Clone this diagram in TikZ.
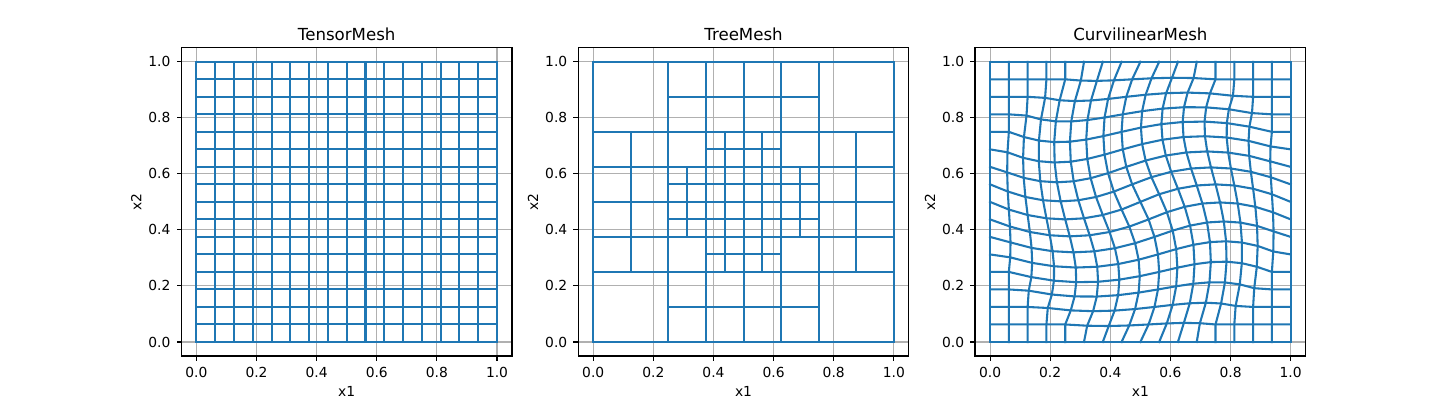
\documentclass[tikz,border=0pt]{standalone}
\usepackage{fontspec}
\setmainfont{DejaVu Sans}
\definecolor{MeshClr}{HTML}{1F77B4}
\definecolor{GridClr}{HTML}{B0B0B0}

\newcommand{\AxesGrid}{%
  \foreach \tk in {0,0.2,0.4,0.6,0.8,1}{
    \draw[gridline] (\tk,-0.05) -- (\tk,1.05);
    \draw[gridline] (-0.05,\tk) -- (1.05,\tk);
  }}
\newcommand{\AxesFrame}[2]{%
  \draw[spine] (-0.05,-0.05) rectangle (1.05,1.05);
  \foreach \tk/\lbl [count=\k] in {0/0.0,0.2/0.2,0.4/0.4,0.6/0.6,0.8/0.8,1/1.0}{
    \draw[spine] (\tk,-0.05) -- ++(0,-3.5pt)
      node[ticklabel,anchor=north,yshift=-4.2pt] (#1x\k) {\lbl};
    \draw[spine] (-0.05,\tk) -- ++(-3.5pt,0)
      node[ticklabel,anchor=east,xshift=-4pt] (#1y\k) {\lbl};
  }
  \node[axlabel] (#1xlabel) at (0.5,-0.175) {x1};
  \node[axlabel,rotate=90] (#1ylabel) at (-0.2,0.5) {x2};
  \node[titlelabel] (#1title) at (0.5,1.099) {#2};
}

\begin{document}
\begin{tikzpicture}[x=0.01in,y=0.01in,
  meshline/.style={line width=1.5pt,color=MeshClr,line cap=rect,line join=round},
  gridline/.style={line width=0.8pt,color=GridClr},
  spine/.style={line width=0.8pt,color=black},
  ticklabel/.style={inner sep=0pt,font=\fontsize{10}{12}\selectfont},
  axlabel/.style={inner sep=0pt,font=\fontsize{10}{12}\selectfont},
  titlelabel/.style={inner sep=0pt,font=\fontsize{12}{14}\selectfont},
  declare function={
    camt(\a,\b)=max(0.5-sqrt((\a-0.5)^2+(\b-0.5)^2),0);
    cx(\a,\b)=\a-(\b-0.5)*camt(\a,\b);
    cy(\a,\b)=\b+(\a-0.5)*camt(\a,\b);}]
\fill[white] (0,0) rectangle (1450,400);
\useasboundingbox (0,0) rectangle (1450,400);

% TensorMesh
\begin{scope}[xshift=1.9627in,yshift=0.58in,x=3.0046in,y=2.8in]
\AxesGrid
\foreach \i in {0,...,16}{
  \draw[meshline] (\i/16,0) -- (\i/16,1);
  \draw[meshline] (0,\i/16) -- (1,\i/16);
}
\AxesFrame{T}{TensorMesh}
\end{scope}

% TreeMesh
\begin{scope}[xshift=5.9288in,yshift=0.58in,x=3.0046in,y=2.8in]
\AxesGrid
\foreach \c/\a/\b in {0/0/1,0.125/0.25/0.75,0.25/0/1,0.3125/0.375/0.625,
    0.375/0/1,0.4375/0.25/0.75,0.5/0/1,0.5625/0.25/0.75,0.625/0/1,
    0.6875/0.375/0.625,0.75/0/1,0.875/0.25/0.75,1/0/1}{
  \draw[meshline] (\a,\c) -- (\b,\c);
  \draw[meshline] (\c,\a) -- (\c,\b);
}
\AxesFrame{Q}{TreeMesh}
\end{scope}

% CurvilinearMesh
\begin{scope}[xshift=9.8949in,yshift=0.58in,x=3.0046in,y=2.8in]
\AxesGrid
\foreach \j in {0,...,16}{
  \draw[meshline] plot[variable=\s,samples at={0,...,16}]
    ({cx(\s/16,\j/16)},{cy(\s/16,\j/16)});
  \draw[meshline] plot[variable=\s,samples at={0,...,16}]
    ({cx(\j/16,\s/16)},{cy(\j/16,\s/16)});
}
\AxesFrame{C}{CurvilinearMesh}
\end{scope}
\end{tikzpicture}
\end{document}
